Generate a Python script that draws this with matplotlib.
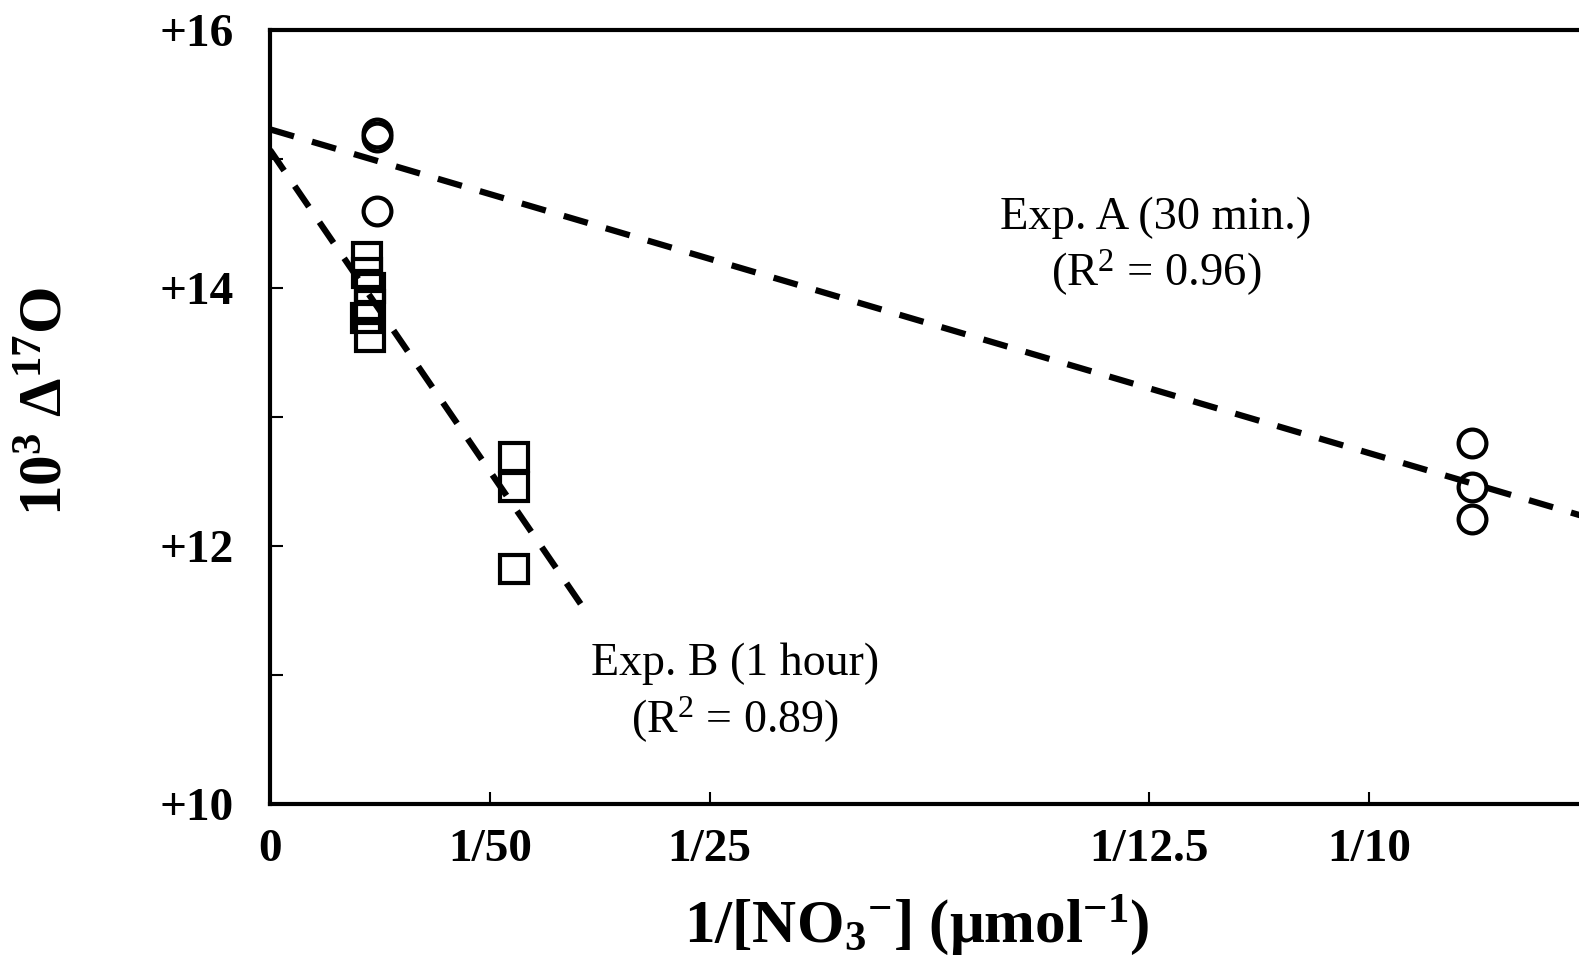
# Delta 17O vs inverse nitrate amount, two experiments with linear fits
import numpy as np
import matplotlib.pyplot as plt

plt.rcParams['font.family'] = ['Liberation Serif', 'DejaVu Serif']
plt.rcParams['mathtext.default'] = 'regular'

# Exp. A (30 min.) - circles
a_x = [0.0097, 0.0097, 0.0097, 0.1094, 0.1094, 0.1094]
a_y = [15.20, 15.17, 14.60, 12.80, 12.455, 12.21]
# Exp. B (1 hour) - squares
b_x = [0.0088, 0.0088, 0.0091, 0.0091, 0.0087, 0.0091, 0.0222, 0.0222, 0.0222]
b_y = [14.24, 14.12, 14.00, 13.87, 13.77, 13.62, 12.69, 12.46, 11.82]

# linear fits: intercept, slope, x extent
fit_a = (15.23, -25.1, 0.12)
fit_b = (15.07, -124.5, 0.0286)

xticks = [0, 1 / 50, 1 / 25, 1 / 12.5, 1 / 10]
xticklabels = ['0', '1/50', '1/25', '1/12.5', '1/10']
yticks = [10, 11, 12, 13, 14, 15, 16]
yticklabels = ['+10', '', '+12', '', '+14', '', '+16']

fig = plt.figure(figsize=(15.79, 9.63), dpi=100)
ax = fig.add_axes([270 / 1579, 159 / 963, 1319 / 1579, 774 / 963])

for fit in (fit_a, fit_b):
    xs = np.array([0, fit[2]])
    ax.plot(xs, fit[0] + fit[1] * xs, color='black', lw=4.5,
            linestyle=(0, (4, 3)), solid_capstyle='butt')

ax.plot(a_x, a_y, 'o', ms=20, mfc='none', mec='black', mew=3)
ax.plot(b_x, b_y, 's', ms=20, mfc='none', mec='black', mew=3)

ax.text(0.0806, 14.545, 'Exp. A (30 min.)', fontsize=33.5, ha='center', va='center')
ax.text(0.0806, 14.12, '(R$^2$ = 0.96)', fontsize=33.5, ha='center', va='center')
ax.text(0.0423, 11.09, 'Exp. B (1 hour)', fontsize=33, ha='center', va='center')
ax.text(0.0423, 10.65, '(R$^2$ = 0.89)', fontsize=33, ha='center', va='center')

ax.set_xlim(0, 0.12)
ax.set_ylim(10, 16)
ax.set_xticks(xticks)
ax.set_xticklabels(xticklabels, fontsize=34, fontweight='bold')
ax.set_yticks(yticks)
ax.set_yticklabels(yticklabels, fontsize=34, fontweight='bold')
ax.tick_params(direction='in', length=9, width=1.5)
ax.tick_params(axis='x', pad=18)
ax.tick_params(axis='y', pad=26)

ax.spines['right'].set_visible(False)
for s in ('left', 'bottom', 'top'):
    ax.spines[s].set_linewidth(3)

ax.set_xlabel('1/[NO$_3$$^{-}$] (μmol$^{-1}$)', fontsize=44, fontweight='bold')
ax.set_ylabel('10$^3$ Δ$^{17}$O', fontsize=44, fontweight='bold')
ax.xaxis.set_label_coords(0.49, -0.115)
ax.yaxis.set_label_coords(-0.148, 0.52)

fig.savefig('out.png', dpi=100)
